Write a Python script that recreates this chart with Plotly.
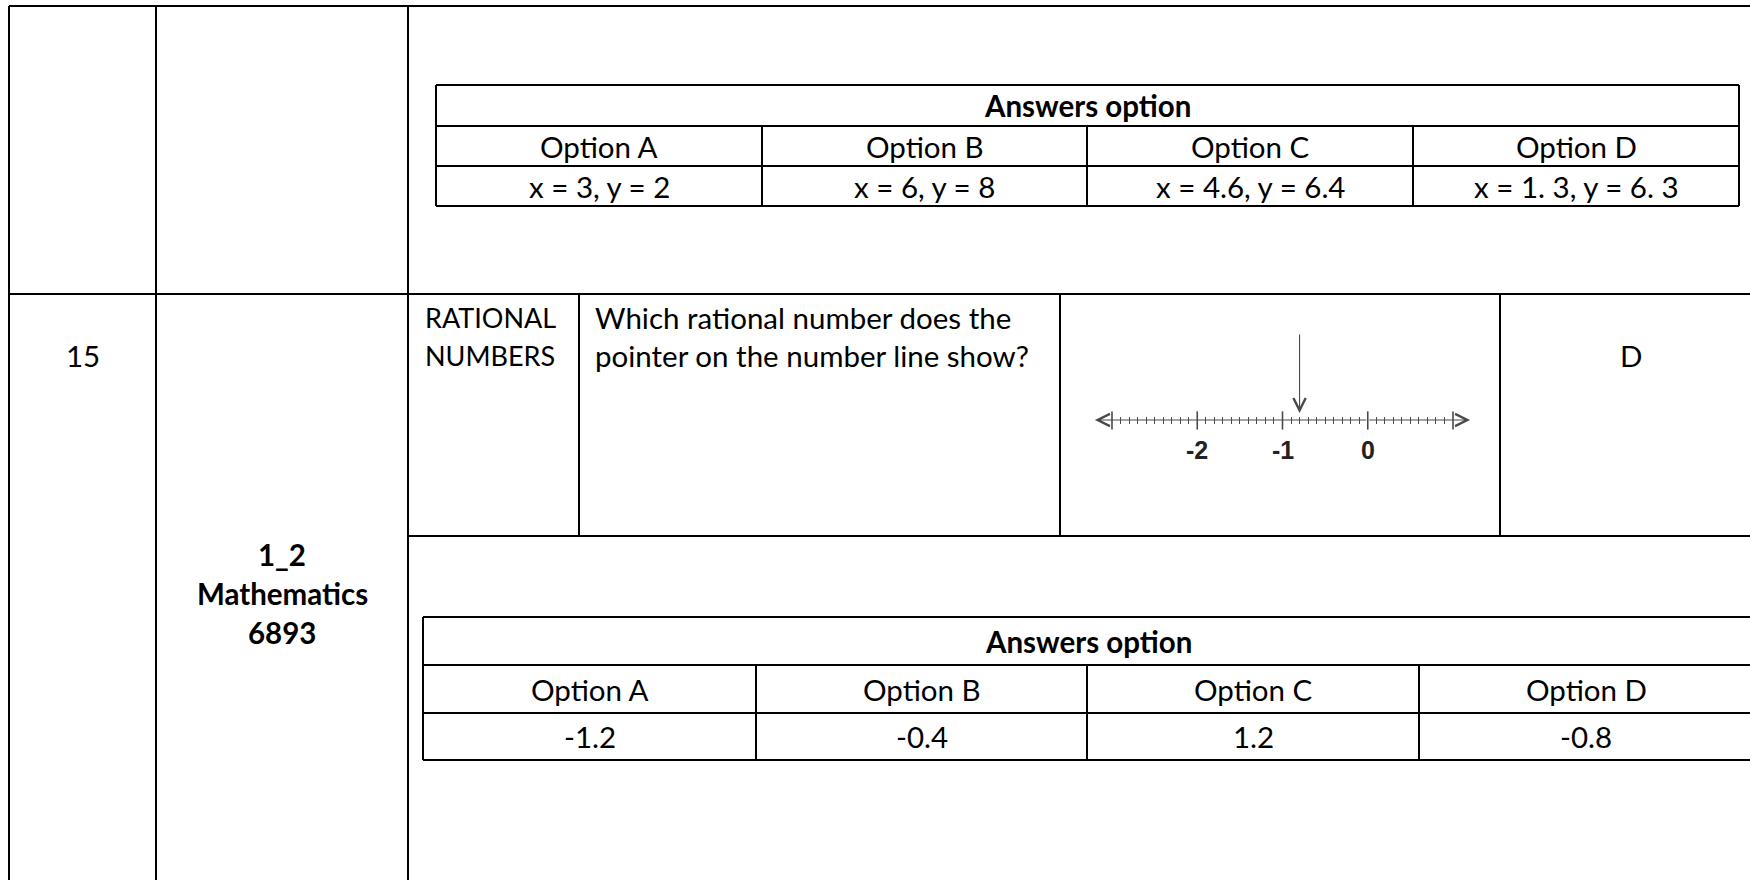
import plotly.graph_objects as go

# cell contents
row_number = "15"
subject_lines = ["1_2", "Mathematics", "6893"]
topic_lines = ["RATIONAL", "NUMBERS"]
question_lines = ["Which rational number does the", "pointer on the number line show?"]
correct_answer = "D"

option_names = ["Option A", "Option B", "Option C", "Option D"]
answers_prev = ["x = 3, y = 2", "x = 6, y = 8", "x = 4.6, y = 6.4", "x = 1. 3, y = 6. 3"]
answers_q15 = ["-1.2", "-0.4", "1.2", "-0.8"]

# number line picture
nl_ticks = [-3, -2, -1, 0, 1]
nl_labels = ["-2", "-1", "0"]
nl_label_vals = [-2, -1, 0]
nl_ends = [-3.2, 1.2]
pointer_value = -0.8

W, H = 1750, 880
FONT = "Lato, Carlito, Calibri, sans-serif"
FS = 29.5
INK = "black"
NL_INK = "#4a4a4a"

# page grid (pixels)
left_x, col1_x, col2_x = 9, 156, 408
top_y, row_y, sub_y = 6, 294, 536
sub_cols = [579, 1060, 1500]
t1_x = [436, 762, 1087, 1413, 1739]
t1_y = [85, 126, 166, 206]
t2_x = [423, 756, 1087, 1419, 1753]
t2_y = [617, 665, 713, 760]
nl_y = 420

shapes = []


def hline(x0, x1, y, w=2):
    shapes.append(dict(type="line", xref="x", yref="y", x0=x0, x1=x1, y0=y, y1=y,
                       line=dict(color=INK, width=w)))


def vline(x, y0, y1, w=2):
    shapes.append(dict(type="line", xref="x", yref="y", x0=x, x1=x, y0=y0, y1=y1,
                       line=dict(color=INK, width=w)))


# outer table
hline(left_x, W, top_y)
hline(left_x, W, row_y)
hline(col2_x, W, sub_y)
for x in (left_x, col1_x, col2_x):
    vline(x, top_y, H)
for x in sub_cols:
    vline(x, row_y, sub_y)

# the two "Answers option" tables
for xs, ys in ((t1_x, t1_y), (t2_x, t2_y)):
    for y in ys:
        hline(xs[0], xs[-1], y)
    vline(xs[0], ys[0], ys[-1])
    vline(xs[-1], ys[0], ys[-1])
    for x in xs[1:-1]:
        vline(x, ys[1], ys[-1])

annotations = []


def label(text, x, y, anchor="center", size=FS, bold=False):
    annotations.append(dict(
        text=f"<b>{text}</b>" if bold else text, x=x, y=y, xref="x", yref="y",
        xanchor=anchor, yanchor="middle", showarrow=False,
        font=dict(family=FONT, size=size, color=INK)))


for xs, ys, values in ((t1_x, t1_y, answers_prev), (t2_x, t2_y, answers_q15)):
    label("Answers option", (xs[0] + xs[-1]) / 2, (ys[0] + ys[1]) / 2, bold=True)
    for i, (name, val) in enumerate(zip(option_names, values)):
        cx = (xs[i] + xs[i + 1]) / 2
        label(name, cx, (ys[1] + ys[2]) / 2)
        label(val, cx, (ys[2] + ys[3]) / 2)

line_y = [317, 355]
label(row_number, (left_x + col1_x) / 2, line_y[1])
for t, y in zip(topic_lines, line_y):
    label(t, col2_x + 15, y, anchor="left", size=27)
for t, y in zip(question_lines, line_y):
    label(t, sub_cols[0] + 14, y, anchor="left")
label(correct_answer, 1631, line_y[1])
for t, y in zip(subject_lines, [554, 593, 632]):
    label(t, (col1_x + col2_x) / 2, y, bold=True)

# number line: body with open arrowheads at both ends
for end in nl_ends:
    annotations.append(dict(
        x=end, y=nl_y, xref="x2", yref="y", ax=0, ay=nl_y, axref="x2", ayref="y",
        text="", showarrow=True, arrowhead=5, arrowsize=2.2, arrowwidth=1.1,
        arrowcolor=NL_INK, standoff=0, startstandoff=0))
# pointer
annotations.append(dict(
    x=pointer_value, y=nl_y - 7, xref="x2", yref="y", ax=pointer_value, ay=333,
    axref="x2", ayref="y", text="", showarrow=True, arrowhead=5, arrowsize=2.2,
    arrowwidth=1.1, arrowcolor=NL_INK, standoff=0))
for t, v in zip(nl_labels, nl_label_vals):
    annotations.append(dict(
        text=f"<b>{t}</b>", x=v, y=nl_y + 30, xref="x2", yref="y", showarrow=False,
        xanchor="center", yanchor="middle",
        font=dict(family="Liberation Sans Narrow, Arial Narrow, sans-serif",
                  size=25, color="#222")))

fig = go.Figure()
fig.add_trace(go.Scatter(x=[], y=[], hoverinfo="skip", showlegend=False))
fig.add_trace(go.Scatter(
    x=nl_ticks, y=[0.5] * len(nl_ticks), xaxis="x2", yaxis="y2", mode="markers",
    marker=dict(symbol="line-ns", size=13, line=dict(width=1.6, color=NL_INK)),
    cliponaxis=False, hoverinfo="skip", showlegend=False))

fig.update_layout(
    width=W, height=H,
    margin=dict(l=0, r=0, t=0, b=0),
    paper_bgcolor="white", plot_bgcolor="white",
    showlegend=False,
    xaxis=dict(range=[0, W], visible=False, fixedrange=True),
    yaxis=dict(range=[H, 0], visible=False, fixedrange=True),
    xaxis2=dict(domain=[1112 / W, 1453 / W], range=[nl_ticks[0], nl_ticks[-1]],
                anchor="y2", dtick=1, tick0=0, showgrid=True, gridcolor=NL_INK,
                gridwidth=1, minor=dict(dtick=0.1, showgrid=True, gridcolor=NL_INK,
                                        gridwidth=1),
                showticklabels=False, zeroline=False, showline=False, ticks="",
                fixedrange=True),
    yaxis2=dict(domain=[1 - 424 / H, 1 - 417 / H], range=[0, 1], anchor="x2",
                visible=False, fixedrange=True),
    shapes=shapes,
    annotations=annotations,
)

fig.write_html("out.html", config={"displayModeBar": False},
               post_script="document.body.style.margin='0';")
